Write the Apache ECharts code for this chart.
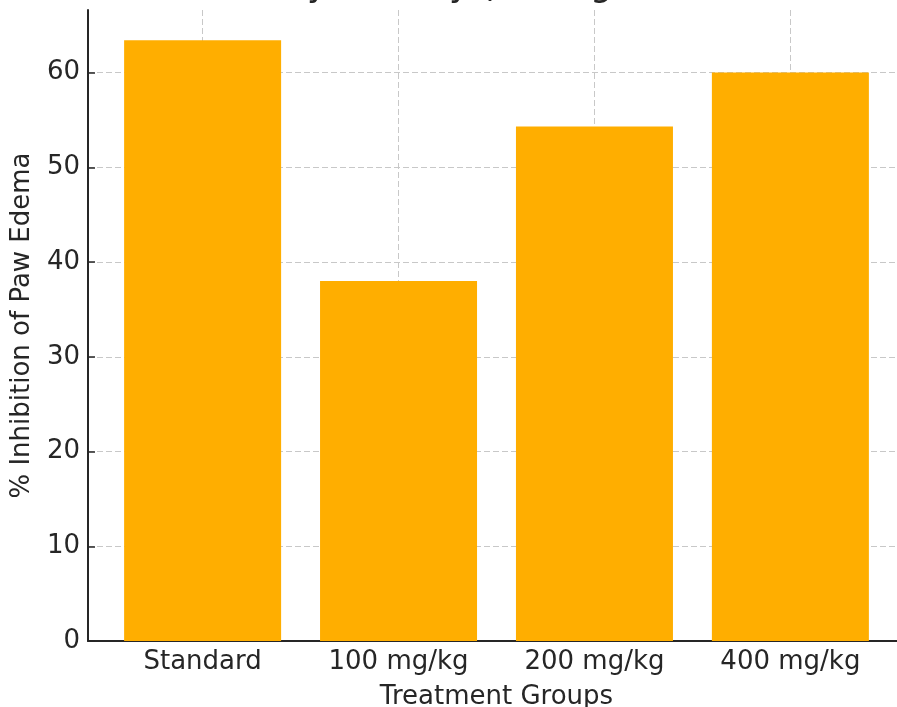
<!DOCTYPE html>
<html>
<head>
<meta charset="utf-8">
<script src="https://cdn.jsdelivr.net/npm/echarts@6/dist/echarts.min.js"></script>
<style>
html,body{margin:0;padding:0;background:#fff;}
#chart{width:897px;height:707px;}
</style>
</head>
<body>
<div id="chart"></div>
<script>
const titleText = 'Anti-inflammatory Activity (Carrageenan-Induced Edema)';
const categories = ['Standard', '100 mg/kg', '200 mg/kg', '400 mg/kg'];
const inhibition = [63.4, 38.0, 54.3, 60.0];
const yTicks = [0, 10, 20, 30, 40, 50, 60];
const xName = 'Treatment Groups';
const yName = '% Inhibition of Paw Edema';

const FONT = 'DejaVu Sans';
const TXT = '#262626';
const positions = categories.map((c, i) => i);

const chart = echarts.init(document.getElementById('chart'), null, {renderer: 'canvas'});
chart.setOption({
  animation: false,
  backgroundColor: '#ffffff',
  title: {
    text: titleText,
    left: 510,
    textAlign: 'center',
    top: -36,
    textStyle: {fontFamily: FONT, fontSize: 35, fontWeight: 'normal', color: TXT, lineHeight: 35}
  },
  grid: {left: 88, right: -8, top: 10, bottom: 66, containLabel: false, outerBoundsMode: 'none'},
  xAxis: {
    type: 'value',
    min: -0.585,
    max: 3.585,
    name: xName,
    nameLocation: 'middle',
    nameGap: 43,
    nameTextStyle: {fontFamily: FONT, fontSize: 26, color: TXT},
    axisLine: {show: true, onZero: false, lineStyle: {color: TXT, width: 2}},
    axisTick: {show: true, inside: true, length: 7, customValues: positions, lineStyle: {color: TXT, width: 1.5}},
    axisLabel: {
      customValues: positions,
      margin: 8,
      fontFamily: FONT, fontSize: 26, color: TXT,
      formatter: v => categories[Math.round(v)] || ''
    },
    splitLine: {show: true, lineStyle: {color: '#c8c8c8', width: 1, type: [6, 3]}}
  },
  yAxis: {
    type: 'value',
    min: 0,
    max: 66.6,
    name: yName,
    nameLocation: 'middle',
    nameGap: 53,
    nameTextStyle: {fontFamily: FONT, fontSize: 26, color: TXT},
    axisLine: {show: true, onZero: false, lineStyle: {color: TXT, width: 2}},
    axisTick: {show: true, inside: true, length: 7, customValues: yTicks, lineStyle: {color: TXT, width: 1.5}},
    axisLabel: {customValues: yTicks, margin: 8, fontFamily: FONT, fontSize: 26, color: TXT},
    splitLine: {show: true, lineStyle: {color: '#c8c8c8', width: 1, type: [6, 3]}}
  },
  series: [{
    type: 'bar',
    data: positions.map((p, i) => [p, inhibition[i]]),
    barWidth: 157,
    itemStyle: {color: '#ffae00'},
    z: 1
  }]
});
</script>
</body>
</html>
